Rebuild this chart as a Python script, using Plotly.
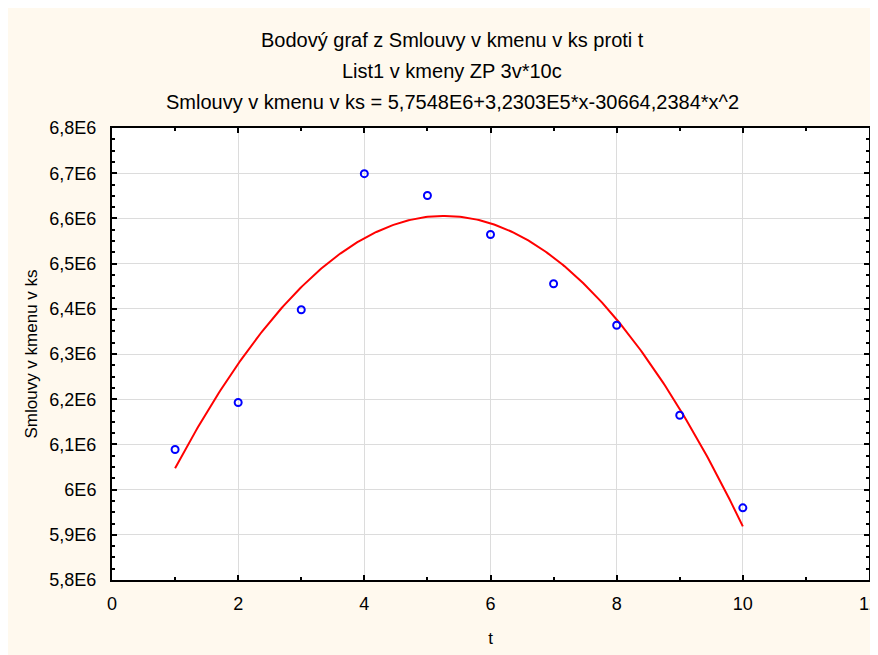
import numpy as np
import plotly.graph_objects as go

# data
t_values = [1, 2, 3, 4, 5, 6, 7, 8, 9, 10]
smlouvy = [6088700, 6192700, 6398000, 6699000, 6650700, 6564400, 6455300, 6363700, 6164600, 5959700]
fit_coef = [5.7548e6, 3.2303e5, -30664.2384]  # c0 + c1*x + c2*x^2

y_tickvals = [5.8e6, 5.9e6, 6.0e6, 6.1e6, 6.2e6, 6.3e6, 6.4e6, 6.5e6, 6.6e6, 6.7e6, 6.8e6]
y_ticktext = ["5,8E6", "5,9E6", "6E6", "6,1E6", "6,2E6", "6,3E6", "6,4E6", "6,5E6", "6,6E6", "6,7E6", "6,8E6"]
x_tickvals = [0, 2, 4, 6, 8, 10, 12]

title_lines = [
    "Bodový graf z Smlouvy v kmenu v ks proti t",
    "List1 v kmeny ZP 3v*10c",
    "Smlouvy v kmenu v ks = 5,7548E6+3,2303E5*x-30664,2384*x^2",
]

xs = np.linspace(min(t_values), max(t_values), 300)
ys = fit_coef[0] + fit_coef[1] * xs + fit_coef[2] * xs ** 2

# the page body adds an 8px offset; figure coordinates below account for it
OFF = 8
W, H = 878, 655
ml, mt = 112 - OFF, 128 - OFF
pw, ph = 757, 452
mr, mb = W - ml - pw, H - mt - ph

def px_x(p):
    return (p - OFF - ml) / pw

def px_y(p):
    return (mt + ph - (p - OFF)) / ph

fig = go.Figure()
fig.add_trace(go.Scatter(x=xs, y=ys, mode="lines", line=dict(color="#FF0000", width=2),
                         hoverinfo="skip", showlegend=False))
fig.add_trace(go.Scatter(x=t_values, y=smlouvy, mode="markers",
                         marker=dict(symbol="circle-open", size=7, color="#0000FF",
                                     line=dict(width=2, color="#0000FF")),
                         showlegend=False))

font_family = "Liberation Sans, Arial, sans-serif"
cream = "#FFF9EE"

axis_common = dict(
    showline=True, linecolor="black", linewidth=2, mirror="allticks",
    ticks="inside", ticklen=5, tickwidth=2, tickcolor="black",
    showgrid=True, gridcolor="#DCDCDC", gridwidth=1, zeroline=False,
    tickfont=dict(family=font_family, size=18, color="black"),
)

fig.update_xaxes(range=[0, 12], tickvals=x_tickvals, ticktext=[str(v) for v in x_tickvals],
                 minor=dict(ticks="inside", dtick=1, ticklen=3, tickwidth=1.5, tickcolor="black", showgrid=False),
                 title=dict(text="t", font=dict(family=font_family, size=17, color="black"), standoff=20),
                 ticklabelstandoff=6, ticklabeloverflow="allow", **axis_common)
fig.update_yaxes(range=[5.8e6, 6.8e6], tickvals=y_tickvals, ticktext=y_ticktext,
                 minor=dict(ticks="inside", dtick=25000, ticklen=3, tickwidth=1.5, tickcolor="black", showgrid=False),
                 title=dict(text="Smlouvy v kmenu v ks", font=dict(family=font_family, size=17, color="black"),
                            standoff=7),
                 ticklabelstandoff=10, **axis_common)

annotations = []
for text, py in zip(title_lines, [40, 71, 102]):
    annotations.append(dict(text=text, xref="paper", yref="paper", x=px_x(452), y=px_y(py),
                            xanchor="center", yanchor="middle", showarrow=False,
                            font=dict(family=font_family, size=20, color="black")))

fig.update_layout(
    width=W, height=H, margin=dict(l=ml, r=mr, t=mt, b=mb, autoexpand=False),
    paper_bgcolor=cream, plot_bgcolor="white",
    annotations=annotations,
    font=dict(family=font_family, size=17, color="black"),
)

fig.write_html("out.html")
